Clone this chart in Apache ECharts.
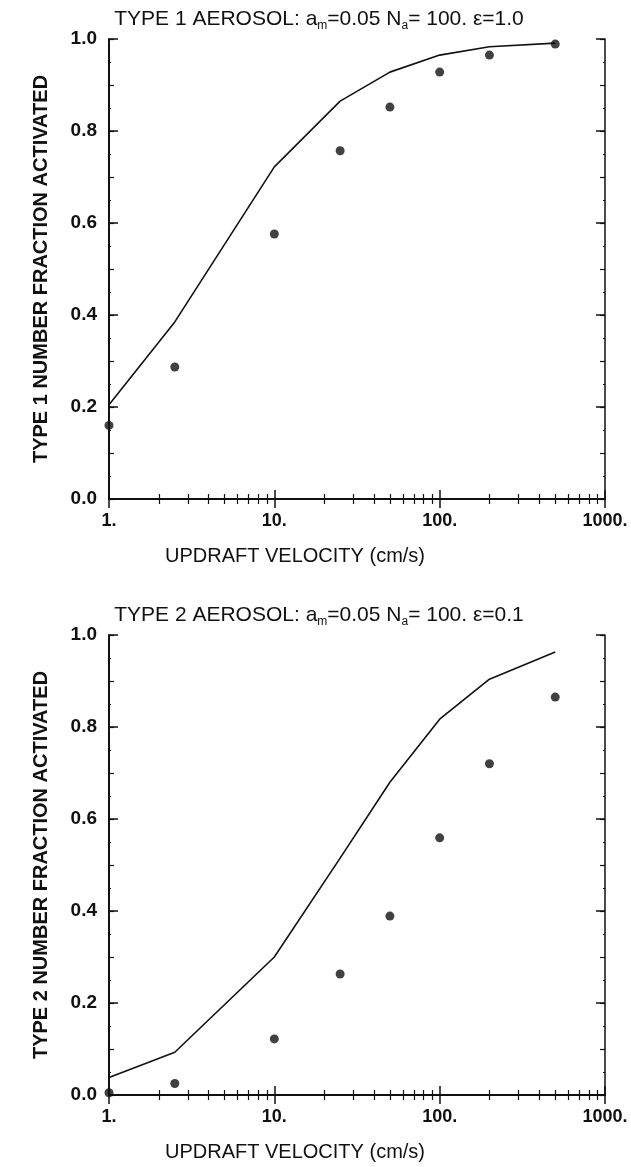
<!DOCTYPE html>
<html>
<head>
<meta charset="utf-8">
<script src="https://cdn.jsdelivr.net/npm/echarts@6/dist/echarts.min.js"></script>
<style>
html, body { margin: 0; padding: 0; background: #fff; }
#chart { width: 631px; height: 1167px; }
</style>
</head>
<body>
<div id="chart"></div>
<script>
// updraft velocity (cm/s) and activated fractions
const velocity = [1, 2.5, 10, 25, 50, 100, 200, 500];
const type1Line = [0.205, 0.385, 0.722, 0.865, 0.928, 0.965, 0.983, 0.991];
const type1Points = [0.16, 0.287, 0.576, 0.757, 0.852, 0.928, 0.965, 0.989];
const type2Line = [0.038, 0.093, 0.30, 0.515, 0.68, 0.817, 0.904, 0.963];
const type2Points = [0.005, 0.025, 0.122, 0.263, 0.389, 0.559, 0.72, 0.865];

const decadeTicks = [1, 10, 100, 1000];
const minorTicks = [2, 3, 4, 5, 6, 7, 8, 9, 20, 30, 40, 50, 60, 70, 80, 90, 200, 300, 400, 500, 600, 700, 800, 900];

const titles = [
    'TYPE 1 AEROSOL: a{s|m}=0.05 N{s|a}= 100. ε=1.0',
    'TYPE 2 AEROSOL: a{s|m}=0.05 N{s|a}= 100. ε=0.1'
];
const yNames = ['TYPE 1 NUMBER FRACTION ACTIVATED', 'TYPE 2 NUMBER FRACTION ACTIVATED'];
const xName = 'UPDRAFT VELOCITY (cm/s)';

const ink = '#111';
const font = 'Liberation Sans, Arial, sans-serif';
const gridTops = [39, 635];

const chart = echarts.init(document.getElementById('chart'));

const xAxes = [];
const yAxes = [];
gridTops.forEach((t, gi) => {
    ['bottom', 'top'].forEach(pos => {
        const bottom = pos === 'bottom';
        xAxes.push({
            type: 'log', logBase: 10, gridIndex: gi, position: pos, min: 1, max: 1000,
            axisLine: {show: true, lineStyle: {color: ink, width: bottom ? 2 : 1.5}},
            axisTick: {inside: true, length: 9, customValues: decadeTicks, lineStyle: {color: ink, width: 1.5}},
            axisLabel: bottom ? {
                customValues: decadeTicks, margin: 13,
                formatter: v => v + '.',
                color: ink, fontFamily: font, fontSize: 18, fontWeight: 'bold'
            } : {show: false},
            splitLine: {show: false}
        });
        xAxes.push({
            type: 'log', logBase: 10, gridIndex: gi, position: pos, min: 1, max: 1000,
            axisLine: {show: false},
            axisTick: {inside: true, length: 5, customValues: minorTicks, lineStyle: {color: ink, width: 1.2}},
            axisLabel: {show: false},
            splitLine: {show: false}
        });
    });
    ['left', 'right'].forEach(pos => {
        const left = pos === 'left';
        yAxes.push({
            type: 'value', gridIndex: gi, position: pos, min: 0, max: 1, interval: 0.2,
            name: left ? yNames[gi] : '', nameLocation: 'middle', nameGap: 58, nameRotate: 90,
            nameTextStyle: {color: ink, fontFamily: font, fontSize: 20, fontWeight: 'bold'},
            axisLine: {show: true, lineStyle: {color: ink, width: left ? 2 : 1.5}},
            axisTick: {inside: true, length: 9, lineStyle: {color: ink, width: 1.5}},
            axisLabel: left ? {
                margin: 12, formatter: v => v.toFixed(1),
                color: ink, fontFamily: font, fontSize: 19, fontWeight: 'bold'
            } : {show: false},
            splitLine: {show: false}
        });
        yAxes.push({
            type: 'value', gridIndex: gi, position: pos, min: 0, max: 1, interval: 0.1,
            axisLine: {show: false},
            axisTick: {inside: true, length: 5, lineStyle: {color: ink, width: 1.2}},
            minorTick: {show: true, splitNumber: 2, length: 2, lineStyle: {color: ink, width: 1}},
            axisLabel: {show: false},
            splitLine: {show: false}
        });
    });
});

const pairs = arr => velocity.map((v, i) => [v, arr[i]]);
const lines = [type1Line, type2Line];
const points = [type1Points, type2Points];
const series = [];
gridTops.forEach((t, gi) => {
    series.push({
        type: 'line', xAxisIndex: gi * 4, yAxisIndex: gi * 4,
        data: pairs(lines[gi]), showSymbol: false, symbol: 'none',
        lineStyle: {color: ink, width: 1.6}, clip: false
    });
    series.push({
        type: 'scatter', xAxisIndex: gi * 4, yAxisIndex: gi * 4,
        data: pairs(points[gi]), symbol: 'circle', symbolSize: 9,
        itemStyle: {color: ink}, clip: false
    });
});

const titleStyle = {
    color: ink, fontFamily: font, fontSize: 21, fontWeight: 'normal', lineHeight: 26,
    rich: {s: {fontFamily: font, fontSize: 12, color: ink, lineHeight: 12, verticalAlign: 'bottom'}}
};
const axisNameStyle = {color: ink, fontFamily: font, fontSize: 20, fontWeight: 'normal'};

chart.setOption({
    backgroundColor: '#fff',
    animation: false,
    title: [
        {text: titles[0], left: 314, top: 1, textAlign: 'center', textStyle: titleStyle},
        {text: titles[1], left: 314, top: 597, textAlign: 'center', textStyle: titleStyle},
        {text: xName, left: 290, top: 541, textAlign: 'center', textStyle: axisNameStyle},
        {text: xName, left: 290, top: 1137, textAlign: 'center', textStyle: axisNameStyle}
    ],
    grid: gridTops.map(t => ({left: 109, top: t, width: 496, height: 460})),
    xAxis: xAxes,
    yAxis: yAxes,
    series: series
});
</script>
</body>
</html>
